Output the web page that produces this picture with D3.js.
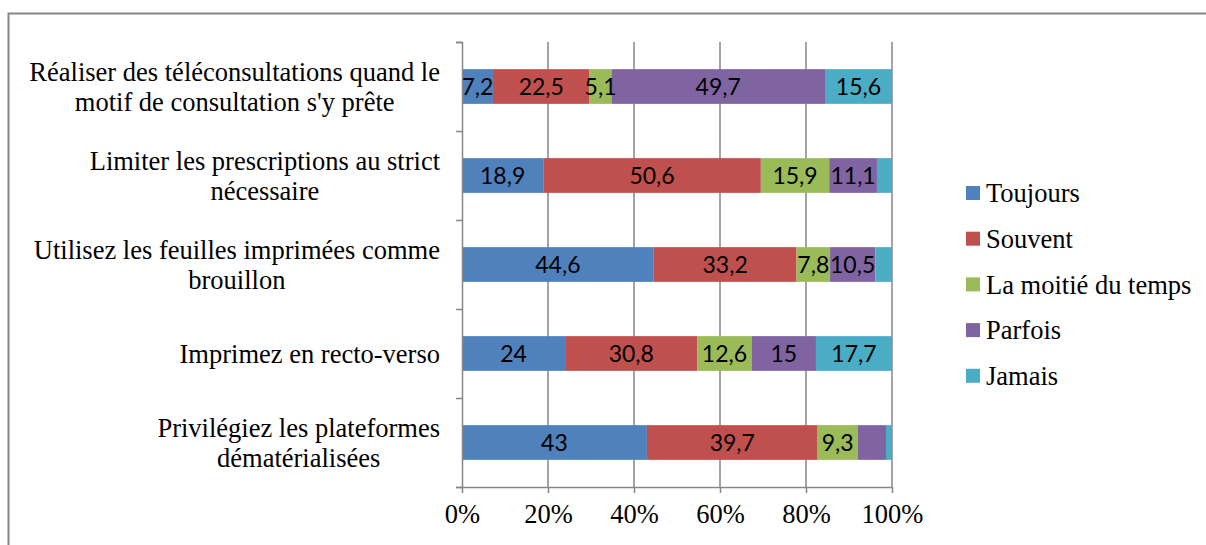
<!DOCTYPE html>
<html>
<head>
<meta charset="utf-8">
<script src="https://cdn.jsdelivr.net/npm/d3@7"></script>
<style>
  body { margin: 0; background: #fff; }
  svg { display: block; }
</style>
</head>
<body>
<div id="container"></div>
<script>
var width = 1206;
var height = 545;

// categories, top to bottom
var categories = [
  ["Réaliser des téléconsultations quand le", "motif de consultation s'y prête"],
  ["Limiter les prescriptions au strict", "nécessaire"],
  ["Utilisez les feuilles imprimées comme", "brouillon"],
  ["Imprimez en recto-verso"],
  ["Privilégiez les plateformes", "dématérialisées"]
];
var seriesNames = ["Toujours", "Souvent", "La moitié du temps", "Parfois", "Jamais"];
var seriesColors = ["#4f81bd", "#c0504d", "#9bbb59", "#8064a2", "#4bacc6"];

var toujours = [7.2, 18.9, 44.6, 24, 43];
var souvent = [22.5, 50.6, 33.2, 30.8, 39.7];
var moitie = [5.1, 15.9, 7.8, 12.6, 9.3];
var parfois = [49.7, 11.1, 10.5, 15, 6.6];
var jamais = [15.6, 3.5, 3.9, 17.7, 1.4];
// segments whose label is not shown: [category index, series index]
var hiddenLabels = [[1, 4], [2, 4], [4, 3], [4, 4]];

var xTicks = [0, 0.2, 0.4, 0.6, 0.8, 1];

var serif = "'Liberation Serif', 'Times New Roman', serif";

var svg = d3.select("div#container").append("svg")
    .attr("width", width)
    .attr("height", height);

// chart border (only top and left show in frame)
svg.append("rect")
    .attr("x", 8.5).attr("y", 13.5)
    .attr("width", 1300).attr("height", 600)
    .attr("fill", "none")
    .attr("stroke", "#868686")
    .attr("stroke-width", 2);

var plotLeft = 462, plotRight = 892, plotTop = 42, plotBottom = 487;

var x = d3.scaleLinear().domain([0, 1]).range([plotLeft, plotRight]);
var y = d3.scaleBand().domain(d3.range(categories.length))
    .range([plotTop, plotBottom]).paddingInner(0.61).paddingOuter(0.305);

var seriesValues = [toujours, souvent, moitie, parfois, jamais];
var rows = categories.map(function(c, i) {
  var row = {};
  seriesNames.forEach(function(s, j) { row[s] = seriesValues[j][i]; });
  return row;
});
// 100% stacked
var normRows = rows.map(function(r) {
  var tot = d3.sum(seriesNames, function(s) { return r[s]; });
  var o = {};
  seriesNames.forEach(function(s) { o[s] = r[s] / tot; });
  return o;
});
var stack = d3.stack().keys(seriesNames)(normRows);

// vertical gridlines
svg.append("g").selectAll("line")
    .data(xTicks.slice(1))
    .enter().append("line")
    .attr("x1", function(d) { return x(d); })
    .attr("x2", function(d) { return x(d); })
    .attr("y1", plotTop).attr("y2", plotBottom)
    .attr("stroke", "#868686").attr("stroke-width", 1.5);

// bars
var layers = svg.append("g").selectAll("g")
    .data(stack).enter().append("g")
    .attr("fill", function(d, j) { return seriesColors[j]; });

layers.selectAll("rect")
    .data(function(d) { return d; })
    .enter().append("rect")
    .attr("x", function(d) { return x(d[0]); })
    .attr("width", function(d) { return x(d[1]) - x(d[0]); })
    .attr("y", function(d, i) { return y(i); })
    .attr("height", y.bandwidth());

// data labels
function isHidden(i, j) {
  return hiddenLabels.some(function(h) { return h[0] === i && h[1] === j; });
}
stack.forEach(function(layer, j) {
  layer.forEach(function(d, i) {
    if (isHidden(i, j)) return;
    svg.append("text")
      .attr("x", (x(d[0]) + x(d[1])) / 2)
      .attr("y", y(i) + y.bandwidth() / 2)
      .attr("dy", "0.36em")
      .attr("text-anchor", "middle")
      .style("font-family", "Lato, 'Liberation Sans', sans-serif")
      .style("font-size", "23px")
      .attr("fill", "#000")
      .text(String(seriesValues[j][i]).replace(".", ","));
  });
});

// y axis
svg.append("g")
    .attr("transform", "translate(" + plotLeft + ",0)")
    .call(d3.axisLeft(d3.scaleLinear().domain([0, 5]).range([plotTop, plotBottom]))
      .ticks(5).tickSize(6).tickFormat(""))
    .call(function(g) {
      g.select(".domain").attr("stroke", "#868686").attr("stroke-width", 1.5);
      g.selectAll(".tick line").attr("stroke", "#868686").attr("stroke-width", 1.5);
    });

// x axis
svg.append("g")
    .attr("transform", "translate(0," + plotBottom + ")")
    .call(d3.axisBottom(x).tickValues(xTicks).tickSize(6).tickSizeOuter(0)
      .tickFormat(d3.format(".0%")))
    .call(function(g) {
      g.select(".domain").attr("stroke", "#868686").attr("stroke-width", 1.5);
      g.selectAll(".tick line").attr("stroke", "#868686").attr("stroke-width", 1.5);
      g.selectAll(".tick text")
        .attr("y", 27)
        .attr("dy", "0.35em")
        .attr("fill", "#000")
        .style("font-family", serif)
        .style("font-size", "26.5px");
    });

// category labels: lines centered within a block right-aligned to the axis
var catG = svg.append("g")
    .style("font-family", serif)
    .style("font-size", "26.5px");
categories.forEach(function(lines, i) {
  var cy = y(i) + y.bandwidth() / 2;
  var lineH = 30;
  var texts = lines.map(function(l, k) {
    return catG.append("text")
      .attr("y", cy + (k - (lines.length - 1) / 2) * lineH)
      .attr("dy", "0.35em")
      .attr("text-anchor", "middle")
      .attr("fill", "#000")
      .text(l);
  });
  var maxW = d3.max(texts, function(t) { return t.node().getComputedTextLength(); });
  texts.forEach(function(t) { t.attr("x", 440 - maxW / 2); });
});

// legend
var legend = svg.append("g").selectAll("g")
    .data(seriesNames).enter().append("g")
    .attr("transform", function(d, j) { return "translate(966," + (193 + j * 45.7) + ")"; });
legend.append("rect")
    .attr("x", 0).attr("y", -7).attr("width", 14).attr("height", 14)
    .attr("fill", function(d, j) { return seriesColors[j]; });
legend.append("text")
    .attr("x", 20).attr("dy", "0.35em")
    .style("font-family", serif)
    .style("font-size", "26.5px")
    .attr("fill", "#000")
    .text(function(d) { return d; });
</script>
</body>
</html>
